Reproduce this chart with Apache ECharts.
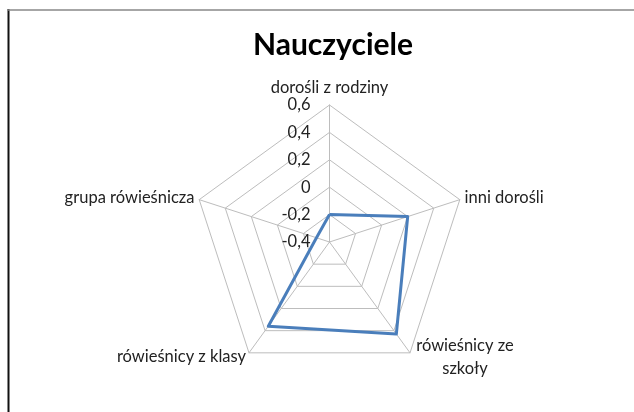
<!DOCTYPE html>
<html>
<head>
<meta charset="utf-8">
<script src="https://cdn.jsdelivr.net/npm/echarts@6/dist/echarts.min.js"></script>
<style>
  html, body { margin: 0; padding: 0; background: #fff; }
  #chart { width: 634px; height: 412px; }
</style>
</head>
<body>
<div id="chart"></div>
<script>
const titleText = 'Nauczyciele';
// clockwise order starting from the top, as in the reference
const categories = ['dorośli z rodziny', 'inni dorośli', 'rówieśnicy ze\nszkoły', 'rówieśnicy z klasy', 'grupa rówieśnicza'];
const values = [-0.2, 0.2, 0.43, 0.36, -0.3];
const axisMin = -0.4;
const axisMax = 0.6;
const axisSplits = 5;

// ECharts lays indicators out counter-clockwise; reverse all but the first to go clockwise
function toCCW(arr) { return [arr[0]].concat(arr.slice(1).reverse()); }

const fontFamily = 'Lato, "Open Sans", sans-serif';
const chart = echarts.init(document.getElementById('chart'));

function fmt(v) {
  const r = Math.round(v * 10) / 10;
  if (r === 0) return '0';
  return r.toFixed(1).replace('.', ',');
}

chart.setOption({
  animation: false,
  backgroundColor: '#fff',
  title: {
    text: titleText,
    left: 248,
    top: 25,
    textStyle: { fontFamily: fontFamily, fontWeight: 'bold', fontSize: 30, color: '#000' }
  },
  graphic: [
    { type: 'line', shape: { x1: 8.5, y1: 9, x2: 8.5, y2: 412 }, style: { stroke: '#111', lineWidth: 2 } },
    { type: 'line', shape: { x1: 8, y1: 10, x2: 634, y2: 10 }, style: { stroke: '#888', lineWidth: 1.5 } }
  ],
  radar: {
    center: [329.5, 242],
    radius: 137,
    startAngle: 90,
    shape: 'polygon',
    splitNumber: axisSplits,
    nameGap: 5,
    axisName: {
      color: '#222',
      fontFamily: fontFamily,
      fontSize: 16.5,
      rich: {
        c: { align: 'center', width: 104, fontFamily: fontFamily, fontSize: 16.5, color: '#222', lineHeight: 23 }
      },
      formatter: function (name) {
        if (name.indexOf('\n') >= 0) return '{c|' + name.split('\n').join('}\n{c|') + '}';
        return name;
      }
    },
    indicator: toCCW(categories).map(function (c, i) {
      const ind = { name: c, min: axisMin, max: axisMax };
      if (i === 0) {
        ind.axisLabel = {
          show: true,
          formatter: fmt,
          color: '#222',
          fontFamily: fontFamily,
          fontSize: 16.5,
          align: 'right',
          margin: 19
        };
      }
      return ind;
    }),
    axisLabel: { show: false },
    axisTick: { show: false },
    axisLine: { lineStyle: { color: '#bdbdbd', width: 1 } },
    splitLine: { lineStyle: { color: '#bdbdbd', width: 1 } },
    splitArea: { show: false }
  },
  series: [{
    type: 'radar',
    symbol: 'none',
    lineStyle: { color: '#4a7ebb', width: 3 },
    data: [{ value: toCCW(values) }]
  }]
});
</script>
</body>
</html>
